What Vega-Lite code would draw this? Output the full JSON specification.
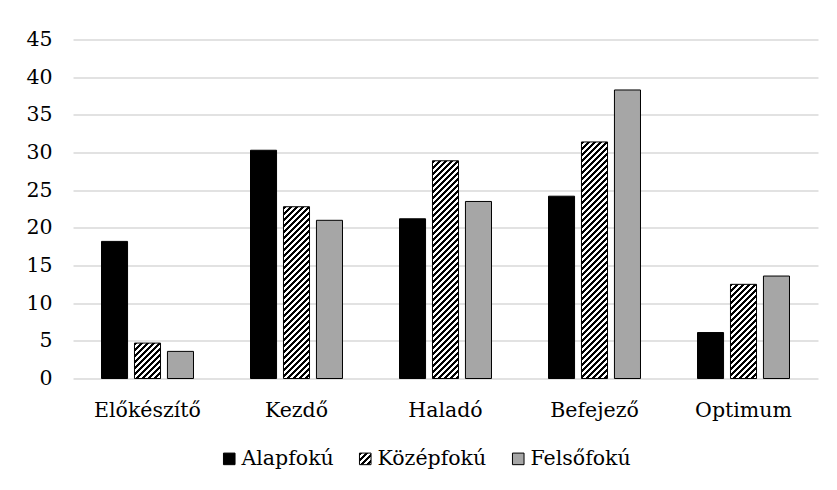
{
"$schema":"https://vega.github.io/schema/vega-lite/v6.json",
"width":745,"height":339,
"autosize":{"type":"none"},
"padding":{"left":73,"top":39.5,"right":19,"bottom":111.5},
"background":"#ffffff",
"config":{"font":"DejaVu Serif","view":{"stroke":null}},
"data":{"values":[
{"cat":"Előkészítő","series":"Alapfokú","v":18.2},
{"cat":"Előkészítő","series":"Középfokú","v":4.7},
{"cat":"Előkészítő","series":"Felsőfokú","v":3.6},
{"cat":"Kezdő","series":"Alapfokú","v":30.3},
{"cat":"Kezdő","series":"Középfokú","v":22.8},
{"cat":"Kezdő","series":"Felsőfokú","v":21.0},
{"cat":"Haladó","series":"Alapfokú","v":21.2},
{"cat":"Haladó","series":"Középfokú","v":28.9},
{"cat":"Haladó","series":"Felsőfokú","v":23.5},
{"cat":"Befejező","series":"Alapfokú","v":24.2},
{"cat":"Befejező","series":"Középfokú","v":31.4},
{"cat":"Befejező","series":"Felsőfokú","v":38.3},
{"cat":"Optimum","series":"Alapfokú","v":6.1},
{"cat":"Optimum","series":"Középfokú","v":12.5},
{"cat":"Optimum","series":"Felsőfokú","v":13.6}
]},
"encoding":{
"x":{"field":"cat","type":"nominal","sort":["Előkészítő","Kezdő","Haladó","Befejező","Optimum"],"scale":{"paddingInner":0.3826,"paddingOuter":0.1913},"axis":{"title":null,"labelAngle":0,"labelFontSize":20.5,"labelColor":"#000","labelPadding":22,"ticks":false,"domain":false,"grid":false}},
"xOffset":{"field":"series","type":"nominal","sort":["Alapfokú","Középfokú","Felsőfokú"],"scale":{"paddingInner":0.21,"paddingOuter":0}},
"y":{"field":"v","type":"quantitative","scale":{"domain":[0,45],"nice":false},"axis":{"title":null,"values":[0,5,10,15,20,25,30,35,40,45],"labelFontSize":20.5,"labelColor":"#000","labelPadding":21,"ticks":false,"domain":false,"gridColor":"#d9d9d9","gridWidth":1.5}}
},
"layer":[
{
"transform":[{"filter":"datum.series==='Középfokú'&&datum.cat==='Előkészítő'"}],
"mark":{"type":"bar","fillOpacity":0,"strokeOpacity":0,"fill":{"id":"hatchsq","gradient":"linear","x1":0,"y1":0,"x2":12.95,"y2":12.95,"stops":[
{"offset":0,"color":"#000"},{"offset":0.01,"color":"#000"},{"offset":0.01,"color":"#fff"},{"offset":0.02,"color":"#fff"},
{"offset":0.02,"color":"#000"},{"offset":0.03,"color":"#000"},{"offset":0.03,"color":"#fff"},{"offset":0.04,"color":"#fff"},
{"offset":0.04,"color":"#000"},{"offset":0.05,"color":"#000"},{"offset":0.05,"color":"#fff"},{"offset":0.06,"color":"#fff"},
{"offset":0.06,"color":"#000"},{"offset":0.07,"color":"#000"},{"offset":0.07,"color":"#fff"},{"offset":0.08,"color":"#fff"}
]}}
},
{
"mark":{"type":"bar","stroke":"#000","strokeWidth":1},
"encoding":{
"fill":{"field":"series","type":"nominal","sort":["Alapfokú","Középfokú","Felsőfokú"],
"scale":{"domain":["Alapfokú","Középfokú","Felsőfokú"],"range":["#000000","url(#hatchsq)","#a6a6a6"]},
"legend":{"title":null,"orient":"none","legendX":146,"legendY":409,"direction":"horizontal","symbolType":"square","symbolSize":134,"symbolStrokeColor":"#000","symbolStrokeWidth":1,"labelFontSize":20.5,"labelColor":"#000","columnPadding":21,"labelOffset":2,"padding":0},
"condition":[
{"test":"datum.series==='Középfokú'&&datum.cat==='Előkészítő'","value":{"gradient":"linear","x1":0,"y1":0,"x2":4.044,"y2":5.497,"stops":[
{"offset":0,"color":"#000"},{"offset":0.01,"color":"#000"},{"offset":0.01,"color":"#fff"},{"offset":0.02,"color":"#fff"},
{"offset":0.02,"color":"#000"},{"offset":0.03,"color":"#000"},{"offset":0.03,"color":"#fff"},{"offset":0.04,"color":"#fff"},
{"offset":0.04,"color":"#000"},{"offset":0.05,"color":"#000"},{"offset":0.05,"color":"#fff"},{"offset":0.06,"color":"#fff"},
{"offset":0.06,"color":"#000"},{"offset":0.07,"color":"#000"},{"offset":0.07,"color":"#fff"},{"offset":0.08,"color":"#fff"},
{"offset":0.08,"color":"#000"},{"offset":0.09,"color":"#000"},{"offset":0.09,"color":"#fff"},{"offset":0.1,"color":"#fff"},
{"offset":0.1,"color":"#000"},{"offset":0.11,"color":"#000"},{"offset":0.11,"color":"#fff"},{"offset":0.12,"color":"#fff"},
{"offset":0.12,"color":"#000"},{"offset":0.13,"color":"#000"},{"offset":0.13,"color":"#fff"},{"offset":0.14,"color":"#fff"},
{"offset":0.14,"color":"#000"},{"offset":0.15,"color":"#000"},{"offset":0.15,"color":"#fff"},{"offset":0.16,"color":"#fff"},
{"offset":0.16,"color":"#000"},{"offset":0.17,"color":"#000"},{"offset":0.17,"color":"#fff"},{"offset":0.18,"color":"#fff"},
{"offset":0.18,"color":"#000"},{"offset":0.19,"color":"#000"},{"offset":0.19,"color":"#fff"},{"offset":0.2,"color":"#fff"},
{"offset":0.2,"color":"#000"},{"offset":0.21,"color":"#000"},{"offset":0.21,"color":"#fff"},{"offset":0.22,"color":"#fff"}
]}},
{"test":"datum.series==='Középfokú'&&datum.cat==='Optimum'","value":{"gradient":"linear","x1":0,"y1":0,"x2":0.8186,"y2":2.9593,"stops":[
{"offset":0,"color":"#000"},{"offset":0.01,"color":"#000"},{"offset":0.01,"color":"#fff"},{"offset":0.02,"color":"#fff"},
{"offset":0.02,"color":"#000"},{"offset":0.03,"color":"#000"},{"offset":0.03,"color":"#fff"},{"offset":0.04,"color":"#fff"},
{"offset":0.04,"color":"#000"},{"offset":0.05,"color":"#000"},{"offset":0.05,"color":"#fff"},{"offset":0.06,"color":"#fff"},
{"offset":0.06,"color":"#000"},{"offset":0.07,"color":"#000"},{"offset":0.07,"color":"#fff"},{"offset":0.08,"color":"#fff"},
{"offset":0.08,"color":"#000"},{"offset":0.09,"color":"#000"},{"offset":0.09,"color":"#fff"},{"offset":0.1,"color":"#fff"},
{"offset":0.1,"color":"#000"},{"offset":0.11,"color":"#000"},{"offset":0.11,"color":"#fff"},{"offset":0.12,"color":"#fff"},
{"offset":0.12,"color":"#000"},{"offset":0.13,"color":"#000"},{"offset":0.13,"color":"#fff"},{"offset":0.14,"color":"#fff"},
{"offset":0.14,"color":"#000"},{"offset":0.15,"color":"#000"},{"offset":0.15,"color":"#fff"},{"offset":0.16,"color":"#fff"},
{"offset":0.16,"color":"#000"},{"offset":0.17,"color":"#000"},{"offset":0.17,"color":"#fff"},{"offset":0.18,"color":"#fff"},
{"offset":0.18,"color":"#000"},{"offset":0.19,"color":"#000"},{"offset":0.19,"color":"#fff"},{"offset":0.2,"color":"#fff"},
{"offset":0.2,"color":"#000"},{"offset":0.21,"color":"#000"},{"offset":0.21,"color":"#fff"},{"offset":0.22,"color":"#fff"},
{"offset":0.22,"color":"#000"},{"offset":0.23,"color":"#000"},{"offset":0.23,"color":"#fff"},{"offset":0.24,"color":"#fff"},
{"offset":0.24,"color":"#000"},{"offset":0.25,"color":"#000"},{"offset":0.25,"color":"#fff"},{"offset":0.26,"color":"#fff"},
{"offset":0.26,"color":"#000"},{"offset":0.27,"color":"#000"},{"offset":0.27,"color":"#fff"},{"offset":0.28,"color":"#fff"},
{"offset":0.28,"color":"#000"},{"offset":0.29,"color":"#000"},{"offset":0.29,"color":"#fff"},{"offset":0.3,"color":"#fff"},
{"offset":0.3,"color":"#000"},{"offset":0.31,"color":"#000"},{"offset":0.31,"color":"#fff"},{"offset":0.32,"color":"#fff"},
{"offset":0.32,"color":"#000"},{"offset":0.33,"color":"#000"},{"offset":0.33,"color":"#fff"},{"offset":0.34,"color":"#fff"},
{"offset":0.34,"color":"#000"},{"offset":0.35,"color":"#000"},{"offset":0.35,"color":"#fff"},{"offset":0.36,"color":"#fff"},
{"offset":0.36,"color":"#000"},{"offset":0.37,"color":"#000"},{"offset":0.37,"color":"#fff"},{"offset":0.38,"color":"#fff"},
{"offset":0.38,"color":"#000"},{"offset":0.39,"color":"#000"},{"offset":0.39,"color":"#fff"},{"offset":0.4,"color":"#fff"},
{"offset":0.4,"color":"#000"},{"offset":0.41,"color":"#000"},{"offset":0.41,"color":"#fff"},{"offset":0.42,"color":"#fff"}
]}},
{"test":"datum.series==='Középfokú'&&datum.cat==='Kezdő'","value":{"gradient":"linear","x1":0,"y1":0,"x2":0.2589,"y2":1.7074,"stops":[
{"offset":0,"color":"#000"},{"offset":0.01,"color":"#000"},{"offset":0.01,"color":"#fff"},{"offset":0.02,"color":"#fff"},
{"offset":0.02,"color":"#000"},{"offset":0.03,"color":"#000"},{"offset":0.03,"color":"#fff"},{"offset":0.04,"color":"#fff"},
{"offset":0.04,"color":"#000"},{"offset":0.05,"color":"#000"},{"offset":0.05,"color":"#fff"},{"offset":0.06,"color":"#fff"},
{"offset":0.06,"color":"#000"},{"offset":0.07,"color":"#000"},{"offset":0.07,"color":"#fff"},{"offset":0.08,"color":"#fff"},
{"offset":0.08,"color":"#000"},{"offset":0.09,"color":"#000"},{"offset":0.09,"color":"#fff"},{"offset":0.1,"color":"#fff"},
{"offset":0.1,"color":"#000"},{"offset":0.11,"color":"#000"},{"offset":0.11,"color":"#fff"},{"offset":0.12,"color":"#fff"},
{"offset":0.12,"color":"#000"},{"offset":0.13,"color":"#000"},{"offset":0.13,"color":"#fff"},{"offset":0.14,"color":"#fff"},
{"offset":0.14,"color":"#000"},{"offset":0.15,"color":"#000"},{"offset":0.15,"color":"#fff"},{"offset":0.16,"color":"#fff"},
{"offset":0.16,"color":"#000"},{"offset":0.17,"color":"#000"},{"offset":0.17,"color":"#fff"},{"offset":0.18,"color":"#fff"},
{"offset":0.18,"color":"#000"},{"offset":0.19,"color":"#000"},{"offset":0.19,"color":"#fff"},{"offset":0.2,"color":"#fff"},
{"offset":0.2,"color":"#000"},{"offset":0.21,"color":"#000"},{"offset":0.21,"color":"#fff"},{"offset":0.22,"color":"#fff"},
{"offset":0.22,"color":"#000"},{"offset":0.23,"color":"#000"},{"offset":0.23,"color":"#fff"},{"offset":0.24,"color":"#fff"},
{"offset":0.24,"color":"#000"},{"offset":0.25,"color":"#000"},{"offset":0.25,"color":"#fff"},{"offset":0.26,"color":"#fff"},
{"offset":0.26,"color":"#000"},{"offset":0.27,"color":"#000"},{"offset":0.27,"color":"#fff"},{"offset":0.28,"color":"#fff"},
{"offset":0.28,"color":"#000"},{"offset":0.29,"color":"#000"},{"offset":0.29,"color":"#fff"},{"offset":0.3,"color":"#fff"},
{"offset":0.3,"color":"#000"},{"offset":0.31,"color":"#000"},{"offset":0.31,"color":"#fff"},{"offset":0.32,"color":"#fff"},
{"offset":0.32,"color":"#000"},{"offset":0.33,"color":"#000"},{"offset":0.33,"color":"#fff"},{"offset":0.34,"color":"#fff"},
{"offset":0.34,"color":"#000"},{"offset":0.35,"color":"#000"},{"offset":0.35,"color":"#fff"},{"offset":0.36,"color":"#fff"},
{"offset":0.36,"color":"#000"},{"offset":0.37,"color":"#000"},{"offset":0.37,"color":"#fff"},{"offset":0.38,"color":"#fff"},
{"offset":0.38,"color":"#000"},{"offset":0.39,"color":"#000"},{"offset":0.39,"color":"#fff"},{"offset":0.4,"color":"#fff"},
{"offset":0.4,"color":"#000"},{"offset":0.41,"color":"#000"},{"offset":0.41,"color":"#fff"},{"offset":0.42,"color":"#fff"},
{"offset":0.42,"color":"#000"},{"offset":0.43,"color":"#000"},{"offset":0.43,"color":"#fff"},{"offset":0.44,"color":"#fff"},
{"offset":0.44,"color":"#000"},{"offset":0.45,"color":"#000"},{"offset":0.45,"color":"#fff"},{"offset":0.46,"color":"#fff"},
{"offset":0.46,"color":"#000"},{"offset":0.47,"color":"#000"},{"offset":0.47,"color":"#fff"},{"offset":0.48,"color":"#fff"},
{"offset":0.48,"color":"#000"},{"offset":0.49,"color":"#000"},{"offset":0.49,"color":"#fff"},{"offset":0.5,"color":"#fff"},
{"offset":0.5,"color":"#000"},{"offset":0.51,"color":"#000"},{"offset":0.51,"color":"#fff"},{"offset":0.52,"color":"#fff"},
{"offset":0.52,"color":"#000"},{"offset":0.53,"color":"#000"},{"offset":0.53,"color":"#fff"},{"offset":0.54,"color":"#fff"},
{"offset":0.54,"color":"#000"},{"offset":0.55,"color":"#000"},{"offset":0.55,"color":"#fff"},{"offset":0.56,"color":"#fff"},
{"offset":0.56,"color":"#000"},{"offset":0.57,"color":"#000"},{"offset":0.57,"color":"#fff"},{"offset":0.58,"color":"#fff"},
{"offset":0.58,"color":"#000"},{"offset":0.59,"color":"#000"},{"offset":0.59,"color":"#fff"},{"offset":0.6,"color":"#fff"},
{"offset":0.6,"color":"#000"},{"offset":0.61,"color":"#000"},{"offset":0.61,"color":"#fff"},{"offset":0.62,"color":"#fff"},
{"offset":0.62,"color":"#000"},{"offset":0.63,"color":"#000"},{"offset":0.63,"color":"#fff"},{"offset":0.64,"color":"#fff"},
{"offset":0.64,"color":"#000"},{"offset":0.65,"color":"#000"},{"offset":0.65,"color":"#fff"},{"offset":0.66,"color":"#fff"}
]}},
{"test":"datum.series==='Középfokú'&&datum.cat==='Haladó'","value":{"gradient":"linear","x1":0,"y1":0,"x2":0.16255,"y2":1.35853,"stops":[
{"offset":0,"color":"#000"},{"offset":0.01,"color":"#000"},{"offset":0.01,"color":"#fff"},{"offset":0.02,"color":"#fff"},
{"offset":0.02,"color":"#000"},{"offset":0.03,"color":"#000"},{"offset":0.03,"color":"#fff"},{"offset":0.04,"color":"#fff"},
{"offset":0.04,"color":"#000"},{"offset":0.05,"color":"#000"},{"offset":0.05,"color":"#fff"},{"offset":0.06,"color":"#fff"},
{"offset":0.06,"color":"#000"},{"offset":0.07,"color":"#000"},{"offset":0.07,"color":"#fff"},{"offset":0.08,"color":"#fff"},
{"offset":0.08,"color":"#000"},{"offset":0.09,"color":"#000"},{"offset":0.09,"color":"#fff"},{"offset":0.1,"color":"#fff"},
{"offset":0.1,"color":"#000"},{"offset":0.11,"color":"#000"},{"offset":0.11,"color":"#fff"},{"offset":0.12,"color":"#fff"},
{"offset":0.12,"color":"#000"},{"offset":0.13,"color":"#000"},{"offset":0.13,"color":"#fff"},{"offset":0.14,"color":"#fff"},
{"offset":0.14,"color":"#000"},{"offset":0.15,"color":"#000"},{"offset":0.15,"color":"#fff"},{"offset":0.16,"color":"#fff"},
{"offset":0.16,"color":"#000"},{"offset":0.17,"color":"#000"},{"offset":0.17,"color":"#fff"},{"offset":0.18,"color":"#fff"},
{"offset":0.18,"color":"#000"},{"offset":0.19,"color":"#000"},{"offset":0.19,"color":"#fff"},{"offset":0.2,"color":"#fff"},
{"offset":0.2,"color":"#000"},{"offset":0.21,"color":"#000"},{"offset":0.21,"color":"#fff"},{"offset":0.22,"color":"#fff"},
{"offset":0.22,"color":"#000"},{"offset":0.23,"color":"#000"},{"offset":0.23,"color":"#fff"},{"offset":0.24,"color":"#fff"},
{"offset":0.24,"color":"#000"},{"offset":0.25,"color":"#000"},{"offset":0.25,"color":"#fff"},{"offset":0.26,"color":"#fff"},
{"offset":0.26,"color":"#000"},{"offset":0.27,"color":"#000"},{"offset":0.27,"color":"#fff"},{"offset":0.28,"color":"#fff"},
{"offset":0.28,"color":"#000"},{"offset":0.29,"color":"#000"},{"offset":0.29,"color":"#fff"},{"offset":0.3,"color":"#fff"},
{"offset":0.3,"color":"#000"},{"offset":0.31,"color":"#000"},{"offset":0.31,"color":"#fff"},{"offset":0.32,"color":"#fff"},
{"offset":0.32,"color":"#000"},{"offset":0.33,"color":"#000"},{"offset":0.33,"color":"#fff"},{"offset":0.34,"color":"#fff"},
{"offset":0.34,"color":"#000"},{"offset":0.35,"color":"#000"},{"offset":0.35,"color":"#fff"},{"offset":0.36,"color":"#fff"},
{"offset":0.36,"color":"#000"},{"offset":0.37,"color":"#000"},{"offset":0.37,"color":"#fff"},{"offset":0.38,"color":"#fff"},
{"offset":0.38,"color":"#000"},{"offset":0.39,"color":"#000"},{"offset":0.39,"color":"#fff"},{"offset":0.4,"color":"#fff"},
{"offset":0.4,"color":"#000"},{"offset":0.41,"color":"#000"},{"offset":0.41,"color":"#fff"},{"offset":0.42,"color":"#fff"},
{"offset":0.42,"color":"#000"},{"offset":0.43,"color":"#000"},{"offset":0.43,"color":"#fff"},{"offset":0.44,"color":"#fff"},
{"offset":0.44,"color":"#000"},{"offset":0.45,"color":"#000"},{"offset":0.45,"color":"#fff"},{"offset":0.46,"color":"#fff"},
{"offset":0.46,"color":"#000"},{"offset":0.47,"color":"#000"},{"offset":0.47,"color":"#fff"},{"offset":0.48,"color":"#fff"},
{"offset":0.48,"color":"#000"},{"offset":0.49,"color":"#000"},{"offset":0.49,"color":"#fff"},{"offset":0.5,"color":"#fff"},
{"offset":0.5,"color":"#000"},{"offset":0.51,"color":"#000"},{"offset":0.51,"color":"#fff"},{"offset":0.52,"color":"#fff"},
{"offset":0.52,"color":"#000"},{"offset":0.53,"color":"#000"},{"offset":0.53,"color":"#fff"},{"offset":0.54,"color":"#fff"},
{"offset":0.54,"color":"#000"},{"offset":0.55,"color":"#000"},{"offset":0.55,"color":"#fff"},{"offset":0.56,"color":"#fff"},
{"offset":0.56,"color":"#000"},{"offset":0.57,"color":"#000"},{"offset":0.57,"color":"#fff"},{"offset":0.58,"color":"#fff"},
{"offset":0.58,"color":"#000"},{"offset":0.59,"color":"#000"},{"offset":0.59,"color":"#fff"},{"offset":0.6,"color":"#fff"},
{"offset":0.6,"color":"#000"},{"offset":0.61,"color":"#000"},{"offset":0.61,"color":"#fff"},{"offset":0.62,"color":"#fff"},
{"offset":0.62,"color":"#000"},{"offset":0.63,"color":"#000"},{"offset":0.63,"color":"#fff"},{"offset":0.64,"color":"#fff"},
{"offset":0.64,"color":"#000"},{"offset":0.65,"color":"#000"},{"offset":0.65,"color":"#fff"},{"offset":0.66,"color":"#fff"},
{"offset":0.66,"color":"#000"},{"offset":0.67,"color":"#000"},{"offset":0.67,"color":"#fff"},{"offset":0.68,"color":"#fff"},
{"offset":0.68,"color":"#000"},{"offset":0.69,"color":"#000"},{"offset":0.69,"color":"#fff"},{"offset":0.7,"color":"#fff"},
{"offset":0.7,"color":"#000"},{"offset":0.71,"color":"#000"},{"offset":0.71,"color":"#fff"},{"offset":0.72,"color":"#fff"},
{"offset":0.72,"color":"#000"},{"offset":0.73,"color":"#000"},{"offset":0.73,"color":"#fff"},{"offset":0.74,"color":"#fff"},
{"offset":0.74,"color":"#000"},{"offset":0.75,"color":"#000"},{"offset":0.75,"color":"#fff"},{"offset":0.76,"color":"#fff"},
{"offset":0.76,"color":"#000"},{"offset":0.77,"color":"#000"},{"offset":0.77,"color":"#fff"},{"offset":0.78,"color":"#fff"},
{"offset":0.78,"color":"#000"},{"offset":0.79,"color":"#000"},{"offset":0.79,"color":"#fff"},{"offset":0.8,"color":"#fff"},
{"offset":0.8,"color":"#000"},{"offset":0.81,"color":"#000"},{"offset":0.81,"color":"#fff"},{"offset":0.82,"color":"#fff"}
]}},
{"test":"datum.series==='Középfokú'&&datum.cat==='Befejező'","value":{"gradient":"linear","x1":0,"y1":0,"x2":0.13799,"y2":1.25304,"stops":[
{"offset":0,"color":"#000"},{"offset":0.01,"color":"#000"},{"offset":0.01,"color":"#fff"},{"offset":0.02,"color":"#fff"},
{"offset":0.02,"color":"#000"},{"offset":0.03,"color":"#000"},{"offset":0.03,"color":"#fff"},{"offset":0.04,"color":"#fff"},
{"offset":0.04,"color":"#000"},{"offset":0.05,"color":"#000"},{"offset":0.05,"color":"#fff"},{"offset":0.06,"color":"#fff"},
{"offset":0.06,"color":"#000"},{"offset":0.07,"color":"#000"},{"offset":0.07,"color":"#fff"},{"offset":0.08,"color":"#fff"},
{"offset":0.08,"color":"#000"},{"offset":0.09,"color":"#000"},{"offset":0.09,"color":"#fff"},{"offset":0.1,"color":"#fff"},
{"offset":0.1,"color":"#000"},{"offset":0.11,"color":"#000"},{"offset":0.11,"color":"#fff"},{"offset":0.12,"color":"#fff"},
{"offset":0.12,"color":"#000"},{"offset":0.13,"color":"#000"},{"offset":0.13,"color":"#fff"},{"offset":0.14,"color":"#fff"},
{"offset":0.14,"color":"#000"},{"offset":0.15,"color":"#000"},{"offset":0.15,"color":"#fff"},{"offset":0.16,"color":"#fff"},
{"offset":0.16,"color":"#000"},{"offset":0.17,"color":"#000"},{"offset":0.17,"color":"#fff"},{"offset":0.18,"color":"#fff"},
{"offset":0.18,"color":"#000"},{"offset":0.19,"color":"#000"},{"offset":0.19,"color":"#fff"},{"offset":0.2,"color":"#fff"},
{"offset":0.2,"color":"#000"},{"offset":0.21,"color":"#000"},{"offset":0.21,"color":"#fff"},{"offset":0.22,"color":"#fff"},
{"offset":0.22,"color":"#000"},{"offset":0.23,"color":"#000"},{"offset":0.23,"color":"#fff"},{"offset":0.24,"color":"#fff"},
{"offset":0.24,"color":"#000"},{"offset":0.25,"color":"#000"},{"offset":0.25,"color":"#fff"},{"offset":0.26,"color":"#fff"},
{"offset":0.26,"color":"#000"},{"offset":0.27,"color":"#000"},{"offset":0.27,"color":"#fff"},{"offset":0.28,"color":"#fff"},
{"offset":0.28,"color":"#000"},{"offset":0.29,"color":"#000"},{"offset":0.29,"color":"#fff"},{"offset":0.3,"color":"#fff"},
{"offset":0.3,"color":"#000"},{"offset":0.31,"color":"#000"},{"offset":0.31,"color":"#fff"},{"offset":0.32,"color":"#fff"},
{"offset":0.32,"color":"#000"},{"offset":0.33,"color":"#000"},{"offset":0.33,"color":"#fff"},{"offset":0.34,"color":"#fff"},
{"offset":0.34,"color":"#000"},{"offset":0.35,"color":"#000"},{"offset":0.35,"color":"#fff"},{"offset":0.36,"color":"#fff"},
{"offset":0.36,"color":"#000"},{"offset":0.37,"color":"#000"},{"offset":0.37,"color":"#fff"},{"offset":0.38,"color":"#fff"},
{"offset":0.38,"color":"#000"},{"offset":0.39,"color":"#000"},{"offset":0.39,"color":"#fff"},{"offset":0.4,"color":"#fff"},
{"offset":0.4,"color":"#000"},{"offset":0.41,"color":"#000"},{"offset":0.41,"color":"#fff"},{"offset":0.42,"color":"#fff"},
{"offset":0.42,"color":"#000"},{"offset":0.43,"color":"#000"},{"offset":0.43,"color":"#fff"},{"offset":0.44,"color":"#fff"},
{"offset":0.44,"color":"#000"},{"offset":0.45,"color":"#000"},{"offset":0.45,"color":"#fff"},{"offset":0.46,"color":"#fff"},
{"offset":0.46,"color":"#000"},{"offset":0.47,"color":"#000"},{"offset":0.47,"color":"#fff"},{"offset":0.48,"color":"#fff"},
{"offset":0.48,"color":"#000"},{"offset":0.49,"color":"#000"},{"offset":0.49,"color":"#fff"},{"offset":0.5,"color":"#fff"},
{"offset":0.5,"color":"#000"},{"offset":0.51,"color":"#000"},{"offset":0.51,"color":"#fff"},{"offset":0.52,"color":"#fff"},
{"offset":0.52,"color":"#000"},{"offset":0.53,"color":"#000"},{"offset":0.53,"color":"#fff"},{"offset":0.54,"color":"#fff"},
{"offset":0.54,"color":"#000"},{"offset":0.55,"color":"#000"},{"offset":0.55,"color":"#fff"},{"offset":0.56,"color":"#fff"},
{"offset":0.56,"color":"#000"},{"offset":0.57,"color":"#000"},{"offset":0.57,"color":"#fff"},{"offset":0.58,"color":"#fff"},
{"offset":0.58,"color":"#000"},{"offset":0.59,"color":"#000"},{"offset":0.59,"color":"#fff"},{"offset":0.6,"color":"#fff"},
{"offset":0.6,"color":"#000"},{"offset":0.61,"color":"#000"},{"offset":0.61,"color":"#fff"},{"offset":0.62,"color":"#fff"},
{"offset":0.62,"color":"#000"},{"offset":0.63,"color":"#000"},{"offset":0.63,"color":"#fff"},{"offset":0.64,"color":"#fff"},
{"offset":0.64,"color":"#000"},{"offset":0.65,"color":"#000"},{"offset":0.65,"color":"#fff"},{"offset":0.66,"color":"#fff"},
{"offset":0.66,"color":"#000"},{"offset":0.67,"color":"#000"},{"offset":0.67,"color":"#fff"},{"offset":0.68,"color":"#fff"},
{"offset":0.68,"color":"#000"},{"offset":0.69,"color":"#000"},{"offset":0.69,"color":"#fff"},{"offset":0.7,"color":"#fff"},
{"offset":0.7,"color":"#000"},{"offset":0.71,"color":"#000"},{"offset":0.71,"color":"#fff"},{"offset":0.72,"color":"#fff"},
{"offset":0.72,"color":"#000"},{"offset":0.73,"color":"#000"},{"offset":0.73,"color":"#fff"},{"offset":0.74,"color":"#fff"},
{"offset":0.74,"color":"#000"},{"offset":0.75,"color":"#000"},{"offset":0.75,"color":"#fff"},{"offset":0.76,"color":"#fff"},
{"offset":0.76,"color":"#000"},{"offset":0.77,"color":"#000"},{"offset":0.77,"color":"#fff"},{"offset":0.78,"color":"#fff"},
{"offset":0.78,"color":"#000"},{"offset":0.79,"color":"#000"},{"offset":0.79,"color":"#fff"},{"offset":0.8,"color":"#fff"},
{"offset":0.8,"color":"#000"},{"offset":0.81,"color":"#000"},{"offset":0.81,"color":"#fff"},{"offset":0.82,"color":"#fff"},
{"offset":0.82,"color":"#000"},{"offset":0.83,"color":"#000"},{"offset":0.83,"color":"#fff"},{"offset":0.84,"color":"#fff"},
{"offset":0.84,"color":"#000"},{"offset":0.85,"color":"#000"},{"offset":0.85,"color":"#fff"},{"offset":0.86,"color":"#fff"},
{"offset":0.86,"color":"#000"},{"offset":0.87,"color":"#000"},{"offset":0.87,"color":"#fff"},{"offset":0.88,"color":"#fff"}
]}}
]}
}
}
]
}
